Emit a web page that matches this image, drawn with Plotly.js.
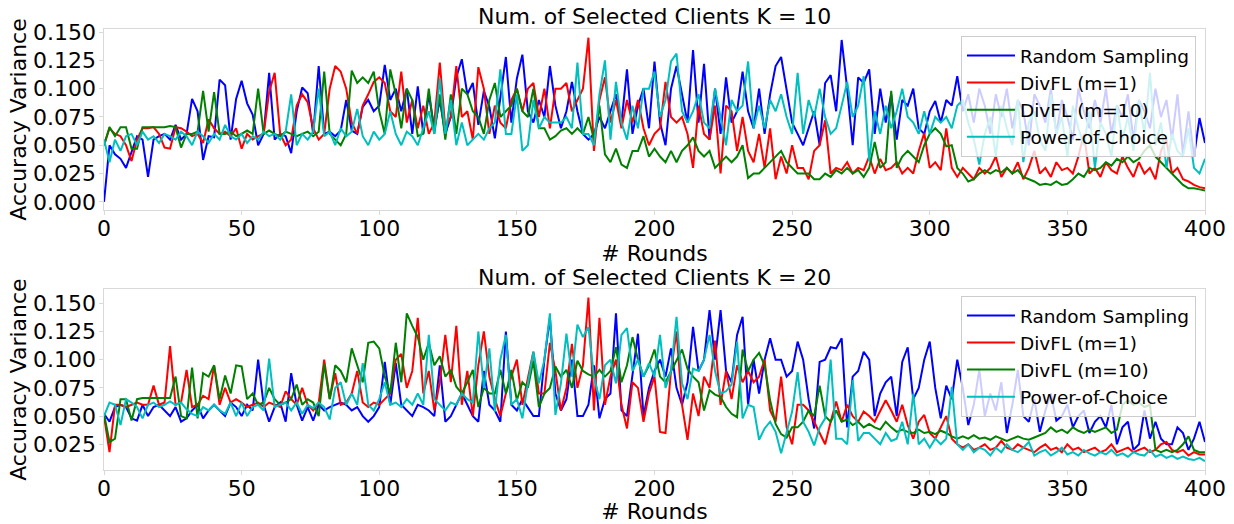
<!DOCTYPE html>
<html>
<head>
<meta charset="utf-8">
<script src="https://cdn.plot.ly/plotly-3.0.1.min.js"></script>
<style>
  html, body { margin: 0; padding: 0; background: #ffffff; }
  #chart { width: 1234px; height: 524px; }
</style>
</head>
<body>
<div id="chart"></div>
<script>
// ---------------- DATA (values read every 2 rounds, rounds 0..400) ----------------
const ROUND_STEP = 2;
const seriesNames = ["Random Sampling", "DivFL (m=1)", "DivFL (m=10)", "Power-of-Choice"];
const subplotTitles = ["Num. of Selected Clients K = 10", "Num. of Selected Clients K = 20"];
const xTickVals = [0, 50, 100, 150, 200, 250, 300, 350, 400];
const yTickValsK10 = [0, 0.025, 0.05, 0.075, 0.1, 0.125, 0.15];
const yTickValsK20 = [0.025, 0.05, 0.075, 0.1, 0.125, 0.15];

// K = 10
const k10Random = [
0.000,0.050,0.042,0.038,0.030,0.045,0.058,0.055,0.022,0.055,0.058,0.060,0.055,0.068,0.055,0.060,0.091,0.080,0.037,0.058,
0.057,0.108,0.103,0.055,0.091,0.107,0.087,0.077,0.050,0.060,0.114,0.055,0.060,0.058,0.043,0.080,0.101,0.096,0.060,0.120,
0.060,0.062,0.058,0.063,0.090,0.063,0.060,0.084,0.090,0.080,0.085,0.121,0.090,0.100,0.080,0.100,0.060,0.102,0.060,0.095,
0.065,0.090,0.060,0.075,0.110,0.126,0.095,0.105,0.068,0.098,0.084,0.056,0.090,0.128,0.070,0.109,0.130,0.080,0.070,0.090,
0.075,0.120,0.085,0.065,0.080,0.106,0.080,0.060,0.055,0.060,0.075,0.065,0.080,0.095,0.070,0.117,0.060,0.085,0.100,0.065,
0.124,0.070,0.050,0.100,0.120,0.095,0.070,0.134,0.070,0.122,0.055,0.100,0.060,0.110,0.070,0.080,0.115,0.080,0.065,0.100,
0.060,0.095,0.120,0.128,0.100,0.070,0.060,0.050,0.065,0.080,0.050,0.105,0.112,0.080,0.143,0.100,0.050,0.110,0.105,0.117,
0.060,0.100,0.070,0.095,0.055,0.090,0.085,0.100,0.065,0.060,0.080,0.089,0.070,0.090,0.085,0.111,0.080,0.095,0.070,0.100,
0.085,0.060,0.095,0.075,0.100,0.065,0.090,0.080,0.050,0.095,0.085,0.070,0.100,0.060,0.090,0.075,0.055,0.100,0.080,0.065,
0.090,0.070,0.100,0.060,0.085,0.075,0.095,0.055,0.090,0.080,0.065,0.100,0.075,0.090,0.055,0.095,0.042,0.080,0.040,0.074,
0.052];
const k10DivFL1 = [
0.050,0.065,0.060,0.058,0.050,0.036,0.055,0.065,0.065,0.066,0.060,0.048,0.047,0.066,0.065,0.062,0.058,0.060,0.052,0.073,
0.065,0.060,0.062,0.058,0.065,0.047,0.060,0.055,0.058,0.060,0.097,0.114,0.060,0.050,0.055,0.085,0.095,0.088,0.065,0.055,
0.060,0.100,0.120,0.115,0.100,0.070,0.060,0.085,0.095,0.106,0.110,0.105,0.080,0.075,0.115,0.070,0.090,0.065,0.085,0.060,
0.070,0.123,0.065,0.075,0.120,0.075,0.080,0.055,0.119,0.100,0.060,0.085,0.070,0.065,0.090,0.100,0.080,0.100,0.105,0.075,
0.100,0.065,0.100,0.100,0.105,0.080,0.090,0.100,0.145,0.045,0.090,0.110,0.070,0.090,0.065,0.090,0.070,0.090,0.065,0.050,
0.060,0.065,0.106,0.075,0.070,0.075,0.060,0.030,0.085,0.060,0.055,0.085,0.025,0.085,0.080,0.045,0.075,0.045,0.035,0.060,
0.030,0.065,0.020,0.040,0.025,0.050,0.030,0.030,0.020,0.045,0.050,0.072,0.025,0.030,0.028,0.035,0.025,0.030,0.028,0.040,
0.025,0.038,0.028,0.030,0.035,0.025,0.030,0.025,0.045,0.061,0.030,0.035,0.028,0.065,0.030,0.022,0.030,0.025,0.020,0.030,
0.025,0.030,0.040,0.022,0.030,0.025,0.035,0.020,0.030,0.045,0.025,0.030,0.022,0.035,0.028,0.030,0.025,0.040,0.060,0.025,
0.030,0.022,0.035,0.028,0.025,0.040,0.030,0.022,0.035,0.025,0.030,0.020,0.045,0.055,0.025,0.030,0.020,0.018,0.015,0.013,
0.012];
const k10DivFL10 = [
0.050,0.066,0.058,0.066,0.066,0.047,0.047,0.066,0.066,0.066,0.066,0.066,0.067,0.066,0.048,0.060,0.060,0.062,0.098,0.062,
0.097,0.060,0.060,0.062,0.058,0.060,0.063,0.060,0.100,0.060,0.063,0.060,0.058,0.062,0.060,0.058,0.060,0.062,0.058,0.062,
0.115,0.060,0.055,0.050,0.060,0.116,0.105,0.110,0.105,0.115,0.080,0.060,0.117,0.095,0.065,0.100,0.090,0.058,0.060,0.100,
0.060,0.095,0.055,0.095,0.060,0.100,0.095,0.080,0.075,0.060,0.090,0.105,0.075,0.080,0.085,0.100,0.080,0.075,0.100,0.065,
0.065,0.055,0.058,0.063,0.065,0.060,0.065,0.060,0.075,0.055,0.085,0.042,0.035,0.047,0.033,0.030,0.045,0.045,0.058,0.040,
0.047,0.040,0.035,0.045,0.035,0.045,0.050,0.057,0.045,0.040,0.045,0.030,0.035,0.040,0.035,0.040,0.050,0.021,0.025,0.025,
0.030,0.035,0.040,0.045,0.035,0.030,0.025,0.025,0.025,0.020,0.020,0.025,0.022,0.028,0.025,0.030,0.025,0.028,0.022,0.030,
0.053,0.030,0.035,0.098,0.030,0.040,0.045,0.040,0.035,0.050,0.060,0.065,0.060,0.049,0.050,0.030,0.025,0.018,0.020,0.025,
0.028,0.025,0.028,0.026,0.030,0.025,0.028,0.022,0.020,0.018,0.015,0.016,0.015,0.018,0.015,0.016,0.020,0.025,0.022,0.030,
0.028,0.030,0.035,0.032,0.038,0.035,0.040,0.035,0.038,0.045,0.050,0.040,0.035,0.030,0.025,0.020,0.015,0.012,0.012,0.011,
0.010];
const k10PowerOfChoice = [
0.055,0.035,0.055,0.045,0.058,0.060,0.050,0.062,0.055,0.058,0.052,0.060,0.058,0.055,0.062,0.058,0.050,0.062,0.058,0.052,
0.060,0.055,0.068,0.058,0.055,0.060,0.052,0.058,0.055,0.062,0.058,0.060,0.055,0.062,0.095,0.050,0.060,0.055,0.062,0.100,
0.058,0.062,0.050,0.065,0.058,0.062,0.082,0.058,0.050,0.062,0.055,0.060,0.080,0.060,0.050,0.062,0.058,0.050,0.065,0.080,
0.060,0.109,0.060,0.090,0.050,0.070,0.050,0.055,0.060,0.055,0.065,0.070,0.117,0.060,0.060,0.095,0.045,0.050,0.090,0.065,
0.075,0.070,0.070,0.070,0.075,0.065,0.123,0.060,0.060,0.050,0.095,0.125,0.055,0.106,0.070,0.055,0.085,0.065,0.100,0.100,
0.115,0.075,0.090,0.124,0.131,0.080,0.070,0.080,0.095,0.070,0.065,0.100,0.075,0.050,0.090,0.080,0.085,0.124,0.065,0.085,
0.065,0.090,0.080,0.095,0.075,0.060,0.114,0.060,0.090,0.075,0.100,0.075,0.060,0.065,0.085,0.106,0.075,0.085,0.111,0.036,
0.080,0.060,0.085,0.065,0.080,0.100,0.075,0.070,0.060,0.080,0.060,0.075,0.070,0.075,0.065,0.085,0.090,0.070,0.055,0.033,
0.060,0.075,0.040,0.085,0.065,0.050,0.090,0.035,0.070,0.080,0.055,0.045,0.095,0.060,0.075,0.040,0.085,0.065,0.050,0.080,
0.030,0.070,0.060,0.040,0.085,0.055,0.075,0.045,0.090,0.060,0.114,0.050,0.070,0.030,0.060,0.045,0.040,0.065,0.030,0.025,
0.038];

// K = 20
const k20Random = [
0.052,0.045,0.058,0.060,0.058,0.048,0.046,0.060,0.050,0.058,0.060,0.055,0.050,0.058,0.045,0.048,0.055,0.060,0.048,0.055,
0.060,0.055,0.050,0.062,0.058,0.050,0.060,0.055,0.100,0.060,0.045,0.058,0.062,0.045,0.088,0.060,0.046,0.058,0.046,0.060,
0.055,0.058,0.060,0.062,0.060,0.055,0.058,0.050,0.045,0.050,0.058,0.098,0.060,0.097,0.060,0.055,0.050,0.060,0.058,0.055,
0.050,0.095,0.045,0.050,0.060,0.070,0.060,0.050,0.045,0.090,0.060,0.055,0.045,0.125,0.060,0.055,0.065,0.057,0.050,0.050,
0.100,0.137,0.070,0.055,0.065,0.100,0.050,0.050,0.060,0.095,0.048,0.065,0.070,0.141,0.055,0.050,0.085,0.123,0.050,0.075,
0.090,0.100,0.085,0.110,0.075,0.060,0.080,0.129,0.090,0.100,0.144,0.100,0.144,0.090,0.080,0.122,0.138,0.060,0.100,0.070,
0.100,0.119,0.100,0.100,0.085,0.090,0.116,0.100,0.065,0.039,0.098,0.100,0.111,0.110,0.119,0.040,0.085,0.090,0.107,0.100,
0.050,0.070,0.080,0.085,0.050,0.098,0.111,0.065,0.075,0.100,0.116,0.075,0.048,0.077,0.065,0.100,0.075,0.042,0.060,0.091,
0.050,0.070,0.055,0.080,0.035,0.060,0.091,0.050,0.045,0.065,0.036,0.055,0.070,0.046,0.050,0.060,0.040,0.050,0.055,0.035,
0.045,0.050,0.040,0.060,0.025,0.040,0.045,0.020,0.025,0.055,0.030,0.045,0.030,0.025,0.025,0.040,0.035,0.020,0.030,0.045,
0.027];
const k20DivFL1 = [
0.050,0.018,0.060,0.060,0.058,0.060,0.062,0.060,0.060,0.077,0.060,0.062,0.112,0.060,0.062,0.091,0.058,0.060,0.068,0.065,
0.095,0.060,0.075,0.062,0.065,0.062,0.058,0.060,0.062,0.058,0.062,0.060,0.058,0.072,0.065,0.060,0.075,0.060,0.055,0.062,
0.100,0.065,0.088,0.060,0.062,0.070,0.090,0.062,0.058,0.062,0.060,0.065,0.070,0.100,0.105,0.075,0.090,0.137,0.070,0.090,
0.055,0.080,0.122,0.080,0.130,0.060,0.090,0.050,0.095,0.125,0.085,0.065,0.050,0.070,0.085,0.100,0.060,0.085,0.107,0.070,
0.070,0.115,0.090,0.055,0.075,0.114,0.075,0.095,0.155,0.055,0.137,0.060,0.085,0.100,0.060,0.039,0.080,0.075,0.045,0.070,
0.085,0.036,0.035,0.090,0.125,0.060,0.029,0.070,0.050,0.085,0.075,0.117,0.060,0.090,0.065,0.095,0.080,0.090,0.080,0.085,
0.100,0.055,0.045,0.085,0.040,0.025,0.060,0.060,0.055,0.045,0.035,0.025,0.045,0.063,0.045,0.060,0.050,0.045,0.054,0.050,
0.045,0.055,0.064,0.055,0.045,0.060,0.042,0.030,0.045,0.051,0.035,0.030,0.040,0.050,0.030,0.025,0.022,0.025,0.020,0.022,
0.025,0.020,0.022,0.028,0.022,0.020,0.025,0.022,0.020,0.018,0.022,0.025,0.020,0.022,0.018,0.025,0.020,0.022,0.018,0.020,
0.022,0.018,0.020,0.025,0.018,0.020,0.022,0.018,0.020,0.022,0.018,0.020,0.025,0.027,0.020,0.018,0.020,0.015,0.018,0.016,
0.016];
const k20DivFL10 = [
0.052,0.027,0.030,0.065,0.065,0.046,0.065,0.066,0.066,0.066,0.066,0.066,0.066,0.085,0.050,0.048,0.093,0.048,0.088,0.085,
0.095,0.065,0.086,0.070,0.095,0.094,0.065,0.070,0.060,0.062,0.075,0.065,0.060,0.062,0.065,0.078,0.060,0.065,0.062,0.050,
0.096,0.065,0.095,0.090,0.080,0.110,0.094,0.080,0.115,0.116,0.110,0.085,0.070,0.115,0.080,0.141,0.130,0.120,0.100,0.115,
0.095,0.103,0.085,0.091,0.076,0.070,0.080,0.091,0.058,0.075,0.070,0.070,0.091,0.070,0.091,0.064,0.080,0.075,0.099,0.058,
0.070,0.075,0.094,0.085,0.091,0.075,0.099,0.090,0.087,0.085,0.091,0.085,0.090,0.111,0.080,0.095,0.120,0.100,0.085,0.095,
0.109,0.085,0.080,0.090,0.100,0.109,0.092,0.085,0.080,0.055,0.073,0.069,0.067,0.058,0.052,0.049,0.109,0.090,0.100,0.106,
0.095,0.064,0.043,0.034,0.031,0.040,0.040,0.045,0.055,0.050,0.077,0.050,0.045,0.055,0.045,0.047,0.042,0.045,0.040,0.043,
0.040,0.038,0.045,0.040,0.036,0.038,0.036,0.035,0.038,0.035,0.036,0.034,0.037,0.035,0.032,0.030,0.032,0.030,0.033,0.030,
0.031,0.029,0.032,0.030,0.028,0.030,0.032,0.030,0.029,0.031,0.033,0.035,0.040,0.036,0.038,0.035,0.040,0.037,0.035,0.038,
0.036,0.038,0.040,0.035,0.038,0.060,0.064,0.060,0.062,0.058,0.060,0.020,0.018,0.020,0.018,0.020,0.025,0.032,0.020,0.018,
0.018];
const k20PowerOfChoice = [
0.050,0.062,0.060,0.042,0.065,0.062,0.058,0.048,0.060,0.062,0.058,0.060,0.063,0.060,0.062,0.056,0.052,0.050,0.058,0.055,
0.060,0.055,0.052,0.062,0.050,0.062,0.050,0.058,0.060,0.055,0.101,0.058,0.060,0.062,0.055,0.062,0.052,0.060,0.057,0.062,
0.058,0.047,0.075,0.080,0.060,0.070,0.060,0.097,0.060,0.055,0.065,0.080,0.060,0.062,0.058,0.065,0.060,0.070,0.060,0.122,
0.065,0.060,0.055,0.062,0.060,0.070,0.065,0.062,0.125,0.075,0.110,0.054,0.100,0.122,0.060,0.065,0.048,0.079,0.107,0.079,
0.100,0.141,0.051,0.079,0.123,0.085,0.131,0.120,0.129,0.085,0.065,0.095,0.100,0.079,0.122,0.128,0.090,0.100,0.085,0.097,
0.085,0.122,0.075,0.090,0.138,0.079,0.065,0.092,0.090,0.100,0.122,0.090,0.070,0.072,0.078,0.116,0.048,0.060,0.058,0.029,
0.039,0.045,0.036,0.017,0.036,0.054,0.089,0.045,0.036,0.024,0.040,0.048,0.100,0.030,0.030,0.025,0.082,0.028,0.035,0.035,
0.030,0.025,0.035,0.028,0.030,0.045,0.025,0.070,0.025,0.030,0.022,0.030,0.025,0.030,0.076,0.025,0.020,0.025,0.018,0.022,
0.020,0.015,0.022,0.018,0.025,0.020,0.018,0.022,0.027,0.015,0.018,0.020,0.015,0.018,0.022,0.016,0.018,0.015,0.020,0.017,
0.015,0.018,0.016,0.020,0.015,0.017,0.014,0.018,0.016,0.015,0.020,0.014,0.016,0.013,0.015,0.012,0.014,0.012,0.011,0.013,
0.010];

// ---------------- CHART ----------------
const allSeries = [k10Random, k10DivFL1, k10DivFL10, k10PowerOfChoice,
                   k20Random, k20DivFL1, k20DivFL10, k20PowerOfChoice];
allSeries.forEach((s, i) => { if (s.length !== 201) throw new Error("series " + i + " has length " + s.length); });

const rounds = k10Random.map((_, i) => i * ROUND_STEP);
const colors = ["#0000ff", "#ff0000", "#008000", "#00bfbf"];
const FONT = "DejaVu Sans";

function mk(values, idx, panel) {
  return {
    type: "scatter", mode: "lines",
    x: rounds, y: values,
    name: seriesNames[idx],
    line: { color: colors[idx], width: 2 },
    xaxis: panel === 0 ? "x" : "x2",
    yaxis: panel === 0 ? "y" : "y2",
    legend: panel === 0 ? "legend" : "legend2",
    hoverinfo: "skip"
  };
}

const traces = [
  mk(k10Random, 0, 0), mk(k10DivFL1, 1, 0), mk(k10DivFL10, 2, 0), mk(k10PowerOfChoice, 3, 0),
  mk(k20Random, 0, 1), mk(k20DivFL1, 1, 1), mk(k20DivFL10, 2, 1), mk(k20PowerOfChoice, 3, 1)
];

const frameColor = "#d9d9d9";
function xAxis(anchor) {
  return {
    anchor: anchor, domain: [0, 1], range: [0, 400],
    tickmode: "array", tickvals: xTickVals,
    ticks: "outside", ticklen: 3.5, tickwidth: 1, tickcolor: frameColor,
    ticklabelstandoff: -5,
    showline: true, mirror: true, linecolor: frameColor, linewidth: 1.2,
    showgrid: false, zeroline: false,
    tickfont: { family: FONT, size: 22, color: "#000000" },
    title: { text: "# Rounds", font: { family: FONT, size: 22, color: "#000000" }, standoff: 0 }
  };
}
function yAxis(anchor, domain, range, tickvals) {
  return {
    anchor: anchor, domain: domain, range: range,
    tickmode: "array", tickvals: tickvals, tickformat: ".3f",
    ticks: "outside", ticklen: 3.5, tickwidth: 1, tickcolor: frameColor,
    ticklabelstandoff: -1,
    showline: true, mirror: true, linecolor: frameColor, linewidth: 1.2,
    showgrid: false, zeroline: false,
    tickfont: { family: FONT, size: 22, color: "#000000" },
    title: { text: "Accuracy Variance", font: { family: FONT, size: 22, color: "#000000" }, standoff: 0 }
  };
}
function legendBox(y) {
  return {
    x: 0.9918, xanchor: "right", y: y, yanchor: "top",
    bgcolor: "rgba(255,255,255,0.8)", bordercolor: "#cccccc", borderwidth: 1,
    font: { family: FONT, size: 18.5, color: "#000000" },
    itemwidth: 48,
    tracegroupgap: 0
  };
}

const layout = {
  width: 1234, height: 524,
  margin: { l: 104, r: 29, t: 29, b: 54, pad: 0 },
  paper_bgcolor: "#ffffff", plot_bgcolor: "#ffffff",
  font: { family: FONT, color: "#000000" },
  showlegend: true,
  xaxis: xAxis("y"),
  yaxis: yAxis("x", [0.5896, 1], [-0.0072, 0.1527], yTickValsK10),
  xaxis2: xAxis("y2"),
  yaxis2: yAxis("x2", [0, 0.4098], [0.0022, 0.1624], yTickValsK20),
  legend: legendBox(0.9841),
  legend2: legendBox(0.3946),
  annotations: [
    { text: subplotTitles[0], xref: "paper", yref: "paper", x: 0.5, y: 1, xanchor: "center", yanchor: "bottom",
      showarrow: false, font: { family: FONT, size: 22, color: "#000000" }, yshift: -2 },
    { text: subplotTitles[1], xref: "paper", yref: "paper", x: 0.5, y: 0.4098, xanchor: "center", yanchor: "bottom",
      showarrow: false, font: { family: FONT, size: 22, color: "#000000" }, yshift: -3 }
  ]
};

Plotly.newPlot("chart", traces, layout, { staticPlot: true, displayModeBar: false });
</script>
</body>
</html>
